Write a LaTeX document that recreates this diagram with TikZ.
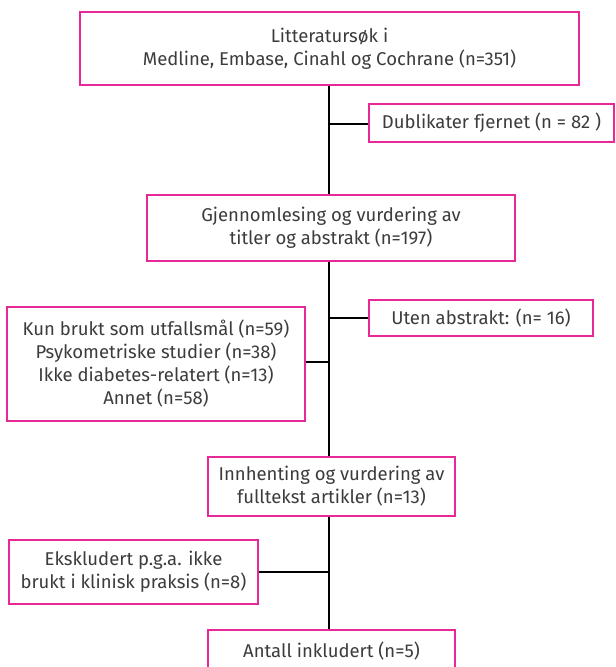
\documentclass[tikz,border=0pt]{standalone}
\usepackage{fontspec}
\setmainfont{Fira Sans}
\definecolor{pinkline}{RGB}{232,40,150}
\definecolor{txt}{RGB}{60,60,60}
\begin{document}
\begin{tikzpicture}[x=1pt,y=-1pt,
  box/.style={draw=pinkline,line width=1.4pt,fill=white,text=txt,align=center,inner sep=0pt,font=\fontsize{18.5}{23}\selectfont},
  conn/.style={draw=black,line width=1.2pt}]
\useasboundingbox (0,0) rectangle (616,667);
\node[box,minimum width=499,minimum height=73] (search) at (329.5,48.5) {Litteratursøk i\\Medline, Embase, Cinahl og Cochrane (n=351)};
\node[box,minimum width=245,minimum height=38] (dup) at (491.5,123) {Dublikater fjernet (n = 82 )};
\node[box,minimum width=368,minimum height=66] (screen) at (331,228) {Gjennomlesing og vurdering av\\titler og abstrakt (n=197)};
\node[box,minimum width=224,minimum height=36] (noabs) at (481,318) {Uten abstrakt: (n= 16)};
\node[box,minimum width=298,minimum height=114] (excl1) at (156,364) {Kun brukt som utfallsmål (n=59)\\Psykometriske studier (n=38)\\Ikke diabetes-relatert (n=13)\\Annet (n=58)};
\node[box,minimum width=247,minimum height=59] (full) at (331.5,486.5) {Innhenting og vurdering av\\fulltekst artikler (n=13)};
\node[box,minimum width=249,minimum height=64] (excl2) at (133.5,572) {Ekskludert p.g.a. ikke\\brukt i klinisk praksis (n=8)};
\node[box,minimum width=247,minimum height=42] (incl) at (331.5,651) {Antall inkludert (n=5)};
\coordinate (t1) at (329,124);
\coordinate (t2) at (329,318);
\coordinate (t3) at (329,362);
\coordinate (t4) at (329,572);
\draw[conn] (search.south -| t1) -- (screen.north -| t1);
\draw[conn] (screen.south -| t1) -- (full.north -| t1);
\draw[conn] (full.south -| t1) -- (incl.north -| t1);
\draw[conn] (t1) -- (dup.west |- t1);
\draw[conn] (t2) -- (noabs.west |- t2);
\draw[conn] (t3) -- (excl1.east |- t3);
\draw[conn] (t4) -- (excl2.east |- t4);
\end{tikzpicture}
\end{document}
